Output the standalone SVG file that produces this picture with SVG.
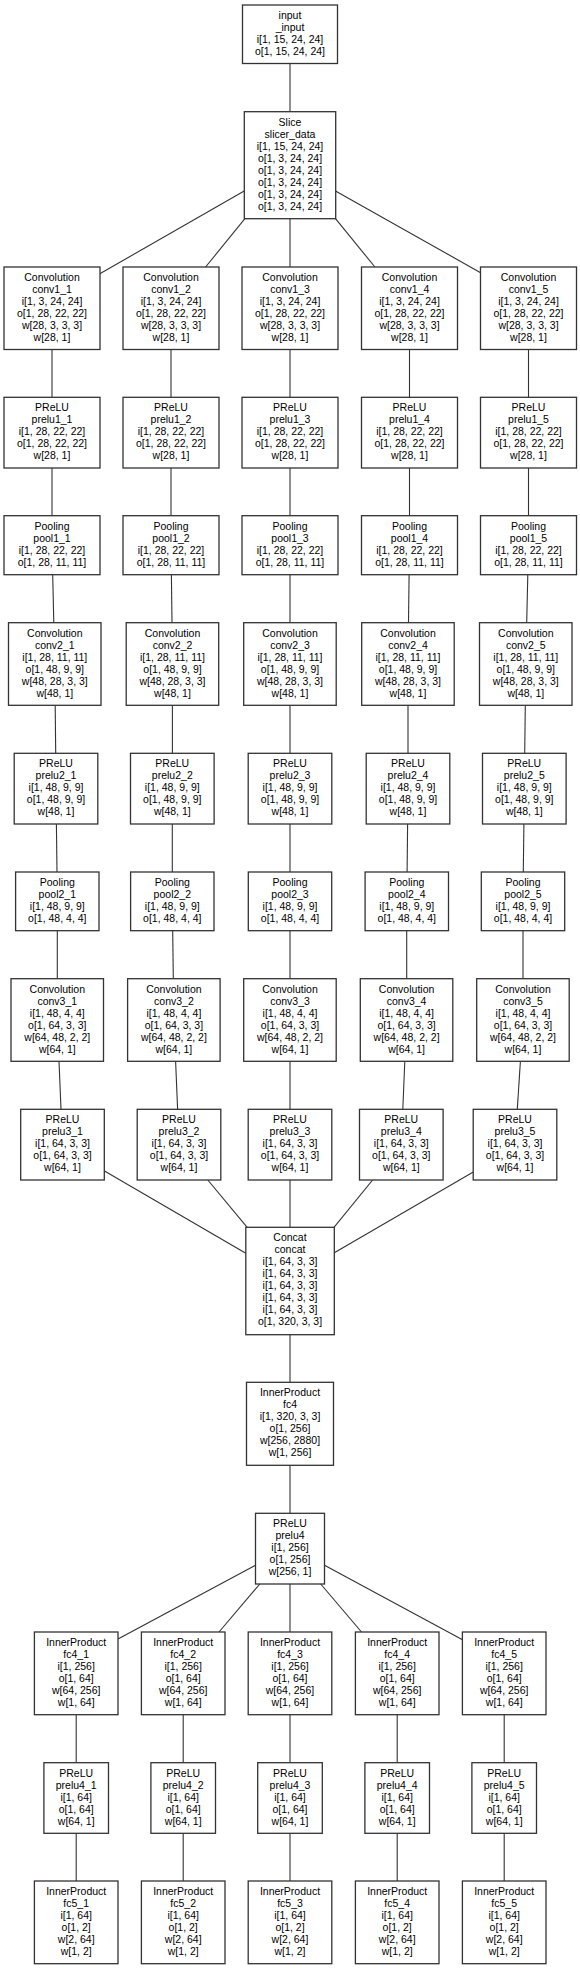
<svg xmlns="http://www.w3.org/2000/svg" width="580" height="1969" viewBox="0 0 580 1969">
<style>
.n rect{fill:#fff;stroke:#333;stroke-width:1.3}
.n text{font-family:"Liberation Sans",Arial,sans-serif;font-size:10.5px;fill:#000;text-anchor:middle}
.e line{stroke:#333;stroke-width:1.1}
</style>
<rect x="0" y="0" width="580" height="1969" fill="#fff"/>
<g class="e" id="connectors">
<line x1="290" y1="63.5" x2="290" y2="111.7"/>
<line x1="244.2" y1="191" x2="99.4" y2="274"/>
<line x1="244.9" y1="218.7" x2="205.6" y2="267"/>
<line x1="290" y1="218.7" x2="290" y2="267"/>
<line x1="335.5" y1="218.7" x2="374.9" y2="267"/>
<line x1="335.5" y1="191" x2="480.6" y2="272.7"/>
<line x1="52" y1="349.5" x2="52" y2="397.3"/>
<line x1="171" y1="349.5" x2="171" y2="397.3"/>
<line x1="290" y1="349.5" x2="290" y2="397.3"/>
<line x1="409.5" y1="349.5" x2="409.5" y2="397.3"/>
<line x1="528.5" y1="349.5" x2="528.5" y2="397.3"/>
<line x1="52" y1="468" x2="52" y2="515.7"/>
<line x1="171" y1="468" x2="171" y2="515.7"/>
<line x1="290" y1="468" x2="290" y2="515.7"/>
<line x1="409.5" y1="468" x2="409.5" y2="515.7"/>
<line x1="528.5" y1="468" x2="528.5" y2="515.7"/>
<line x1="52.7" y1="574.7" x2="53.8" y2="622.7"/>
<line x1="171.4" y1="574.7" x2="172" y2="622.7"/>
<line x1="290" y1="574.7" x2="290" y2="622.7"/>
<line x1="409.1" y1="574.7" x2="408.5" y2="622.7"/>
<line x1="527.8" y1="574.7" x2="526.7" y2="622.7"/>
<line x1="55.2" y1="705.3" x2="55.7" y2="753.3"/>
<line x1="172.4" y1="705.3" x2="172.4" y2="753.3"/>
<line x1="290" y1="705.3" x2="290" y2="753.3"/>
<line x1="408" y1="705.3" x2="408" y2="753.3"/>
<line x1="525.3" y1="705.3" x2="524.7" y2="753.3"/>
<line x1="56.4" y1="824" x2="57" y2="872"/>
<line x1="172.3" y1="824" x2="172.3" y2="872"/>
<line x1="290" y1="824" x2="290" y2="872"/>
<line x1="407.6" y1="824" x2="407.1" y2="872"/>
<line x1="523.9" y1="824" x2="523.3" y2="872"/>
<line x1="57.3" y1="930.7" x2="57.3" y2="978.7"/>
<line x1="172.7" y1="930.7" x2="173.3" y2="978.7"/>
<line x1="290" y1="930.7" x2="290" y2="978.7"/>
<line x1="406.7" y1="930.7" x2="406.7" y2="978.7"/>
<line x1="523" y1="930.7" x2="523" y2="978.7"/>
<line x1="59" y1="1061.3" x2="61" y2="1109.3"/>
<line x1="175.6" y1="1061.3" x2="177.6" y2="1109.3"/>
<line x1="290" y1="1061.3" x2="290" y2="1109.3"/>
<line x1="404.8" y1="1061.3" x2="402.8" y2="1109.3"/>
<line x1="520.4" y1="1061.3" x2="517.3" y2="1109.3"/>
<line x1="104.5" y1="1171" x2="245.8" y2="1253.3"/>
<line x1="207.8" y1="1180" x2="247.2" y2="1227.3"/>
<line x1="290" y1="1180" x2="290" y2="1227.3"/>
<line x1="372.6" y1="1180" x2="334" y2="1227.3"/>
<line x1="475" y1="1171" x2="334.3" y2="1252.7"/>
<line x1="290" y1="1334.7" x2="290" y2="1382.3"/>
<line x1="290" y1="1465.3" x2="290" y2="1513.3"/>
<line x1="255.5" y1="1565.3" x2="118" y2="1639"/>
<line x1="259.8" y1="1584" x2="219" y2="1632"/>
<line x1="290" y1="1584" x2="290" y2="1632"/>
<line x1="320.7" y1="1584" x2="361.5" y2="1632"/>
<line x1="324.5" y1="1565.3" x2="462.5" y2="1639.7"/>
<line x1="76.2" y1="1714.7" x2="76.2" y2="1762.7"/>
<line x1="183.2" y1="1714.7" x2="183.2" y2="1762.7"/>
<line x1="290" y1="1714.7" x2="290" y2="1762.7"/>
<line x1="397.2" y1="1714.7" x2="397.2" y2="1762.7"/>
<line x1="504.2" y1="1714.7" x2="504.2" y2="1762.7"/>
<line x1="76.2" y1="1833.3" x2="76.2" y2="1881"/>
<line x1="183.2" y1="1833.3" x2="183.2" y2="1881"/>
<line x1="290" y1="1833.3" x2="290" y2="1881"/>
<line x1="397.2" y1="1833.3" x2="397.2" y2="1881"/>
<line x1="504.2" y1="1833.3" x2="504.2" y2="1881"/>
</g>

<g class="n" id="input"><rect x="242.5" y="5" width="95" height="58.5"/><text x="290" y="19">input<tspan x="290" dy="12">_input</tspan><tspan x="290" dy="12">i[1, 15, 24, 24]</tspan><tspan x="290" dy="12">o[1, 15, 24, 24]</tspan></text></g>

<g class="n" id="slicer_data"><rect x="244.3" y="111.7" width="91.4" height="107"/><text x="290" y="125.7">Slice<tspan x="290" dy="12">slicer_data</tspan><tspan x="290" dy="12">i[1, 15, 24, 24]</tspan><tspan x="290" dy="12">o[1, 3, 24, 24]</tspan><tspan x="290" dy="12">o[1, 3, 24, 24]</tspan><tspan x="290" dy="12">o[1, 3, 24, 24]</tspan><tspan x="290" dy="12">o[1, 3, 24, 24]</tspan><tspan x="290" dy="12">o[1, 3, 24, 24]</tspan></text></g>

<g class="n" id="conv1_1"><rect x="4" y="267" width="96" height="82.5"/><text x="52" y="281">Convolution<tspan x="52" dy="12">conv1_1</tspan><tspan x="52" dy="12">i[1, 3, 24, 24]</tspan><tspan x="52" dy="12">o[1, 28, 22, 22]</tspan><tspan x="52" dy="12">w[28, 3, 3, 3]</tspan><tspan x="52" dy="12">w[28, 1]</tspan></text></g>
<g class="n" id="conv1_2"><rect x="123" y="267" width="96" height="82.5"/><text x="171" y="281">Convolution<tspan x="171" dy="12">conv1_2</tspan><tspan x="171" dy="12">i[1, 3, 24, 24]</tspan><tspan x="171" dy="12">o[1, 28, 22, 22]</tspan><tspan x="171" dy="12">w[28, 3, 3, 3]</tspan><tspan x="171" dy="12">w[28, 1]</tspan></text></g>
<g class="n" id="conv1_3"><rect x="242" y="267" width="96" height="82.5"/><text x="290" y="281">Convolution<tspan x="290" dy="12">conv1_3</tspan><tspan x="290" dy="12">i[1, 3, 24, 24]</tspan><tspan x="290" dy="12">o[1, 28, 22, 22]</tspan><tspan x="290" dy="12">w[28, 3, 3, 3]</tspan><tspan x="290" dy="12">w[28, 1]</tspan></text></g>
<g class="n" id="conv1_4"><rect x="361.5" y="267" width="96" height="82.5"/><text x="409.5" y="281">Convolution<tspan x="409.5" dy="12">conv1_4</tspan><tspan x="409.5" dy="12">i[1, 3, 24, 24]</tspan><tspan x="409.5" dy="12">o[1, 28, 22, 22]</tspan><tspan x="409.5" dy="12">w[28, 3, 3, 3]</tspan><tspan x="409.5" dy="12">w[28, 1]</tspan></text></g>
<g class="n" id="conv1_5"><rect x="480.5" y="267" width="96" height="82.5"/><text x="528.5" y="281">Convolution<tspan x="528.5" dy="12">conv1_5</tspan><tspan x="528.5" dy="12">i[1, 3, 24, 24]</tspan><tspan x="528.5" dy="12">o[1, 28, 22, 22]</tspan><tspan x="528.5" dy="12">w[28, 3, 3, 3]</tspan><tspan x="528.5" dy="12">w[28, 1]</tspan></text></g>

<g class="n" id="prelu1_1"><rect x="4" y="397.3" width="96" height="70.7"/><text x="52" y="411.3">PReLU<tspan x="52" dy="12">prelu1_1</tspan><tspan x="52" dy="12">i[1, 28, 22, 22]</tspan><tspan x="52" dy="12">o[1, 28, 22, 22]</tspan><tspan x="52" dy="12">w[28, 1]</tspan></text></g>
<g class="n" id="prelu1_2"><rect x="123" y="397.3" width="96" height="70.7"/><text x="171" y="411.3">PReLU<tspan x="171" dy="12">prelu1_2</tspan><tspan x="171" dy="12">i[1, 28, 22, 22]</tspan><tspan x="171" dy="12">o[1, 28, 22, 22]</tspan><tspan x="171" dy="12">w[28, 1]</tspan></text></g>
<g class="n" id="prelu1_3"><rect x="242" y="397.3" width="96" height="70.7"/><text x="290" y="411.3">PReLU<tspan x="290" dy="12">prelu1_3</tspan><tspan x="290" dy="12">i[1, 28, 22, 22]</tspan><tspan x="290" dy="12">o[1, 28, 22, 22]</tspan><tspan x="290" dy="12">w[28, 1]</tspan></text></g>
<g class="n" id="prelu1_4"><rect x="361.5" y="397.3" width="96" height="70.7"/><text x="409.5" y="411.3">PReLU<tspan x="409.5" dy="12">prelu1_4</tspan><tspan x="409.5" dy="12">i[1, 28, 22, 22]</tspan><tspan x="409.5" dy="12">o[1, 28, 22, 22]</tspan><tspan x="409.5" dy="12">w[28, 1]</tspan></text></g>
<g class="n" id="prelu1_5"><rect x="480.5" y="397.3" width="96" height="70.7"/><text x="528.5" y="411.3">PReLU<tspan x="528.5" dy="12">prelu1_5</tspan><tspan x="528.5" dy="12">i[1, 28, 22, 22]</tspan><tspan x="528.5" dy="12">o[1, 28, 22, 22]</tspan><tspan x="528.5" dy="12">w[28, 1]</tspan></text></g>

<g class="n" id="pool1_1"><rect x="4" y="515.7" width="96" height="59"/><text x="52" y="529.7">Pooling<tspan x="52" dy="12">pool1_1</tspan><tspan x="52" dy="12">i[1, 28, 22, 22]</tspan><tspan x="52" dy="12">o[1, 28, 11, 11]</tspan></text></g>
<g class="n" id="pool1_2"><rect x="123" y="515.7" width="96" height="59"/><text x="171" y="529.7">Pooling<tspan x="171" dy="12">pool1_2</tspan><tspan x="171" dy="12">i[1, 28, 22, 22]</tspan><tspan x="171" dy="12">o[1, 28, 11, 11]</tspan></text></g>
<g class="n" id="pool1_3"><rect x="242" y="515.7" width="96" height="59"/><text x="290" y="529.7">Pooling<tspan x="290" dy="12">pool1_3</tspan><tspan x="290" dy="12">i[1, 28, 22, 22]</tspan><tspan x="290" dy="12">o[1, 28, 11, 11]</tspan></text></g>
<g class="n" id="pool1_4"><rect x="361.5" y="515.7" width="96" height="59"/><text x="409.5" y="529.7">Pooling<tspan x="409.5" dy="12">pool1_4</tspan><tspan x="409.5" dy="12">i[1, 28, 22, 22]</tspan><tspan x="409.5" dy="12">o[1, 28, 11, 11]</tspan></text></g>
<g class="n" id="pool1_5"><rect x="480.5" y="515.7" width="96" height="59"/><text x="528.5" y="529.7">Pooling<tspan x="528.5" dy="12">pool1_5</tspan><tspan x="528.5" dy="12">i[1, 28, 22, 22]</tspan><tspan x="528.5" dy="12">o[1, 28, 11, 11]</tspan></text></g>

<g class="n" id="conv2_1"><rect x="8.5" y="622.7" width="92.5" height="82.6"/><text x="54.8" y="636.7">Convolution<tspan x="54.8" dy="12">conv2_1</tspan><tspan x="54.8" dy="12">i[1, 28, 11, 11]</tspan><tspan x="54.8" dy="12">o[1, 48, 9, 9]</tspan><tspan x="54.8" dy="12">w[48, 28, 3, 3]</tspan><tspan x="54.8" dy="12">w[48, 1]</tspan></text></g>
<g class="n" id="conv2_2"><rect x="126.2" y="622.7" width="92.5" height="82.6"/><text x="172.5" y="636.7">Convolution<tspan x="172.5" dy="12">conv2_2</tspan><tspan x="172.5" dy="12">i[1, 28, 11, 11]</tspan><tspan x="172.5" dy="12">o[1, 48, 9, 9]</tspan><tspan x="172.5" dy="12">w[48, 28, 3, 3]</tspan><tspan x="172.5" dy="12">w[48, 1]</tspan></text></g>
<g class="n" id="conv2_3"><rect x="243.7" y="622.7" width="92.5" height="82.6"/><text x="290" y="636.7">Convolution<tspan x="290" dy="12">conv2_3</tspan><tspan x="290" dy="12">i[1, 28, 11, 11]</tspan><tspan x="290" dy="12">o[1, 48, 9, 9]</tspan><tspan x="290" dy="12">w[48, 28, 3, 3]</tspan><tspan x="290" dy="12">w[48, 1]</tspan></text></g>
<g class="n" id="conv2_4"><rect x="361.7" y="622.7" width="92.5" height="82.6"/><text x="408" y="636.7">Convolution<tspan x="408" dy="12">conv2_4</tspan><tspan x="408" dy="12">i[1, 28, 11, 11]</tspan><tspan x="408" dy="12">o[1, 48, 9, 9]</tspan><tspan x="408" dy="12">w[48, 28, 3, 3]</tspan><tspan x="408" dy="12">w[48, 1]</tspan></text></g>
<g class="n" id="conv2_5"><rect x="479.5" y="622.7" width="92.5" height="82.6"/><text x="525.8" y="636.7">Convolution<tspan x="525.8" dy="12">conv2_5</tspan><tspan x="525.8" dy="12">i[1, 28, 11, 11]</tspan><tspan x="525.8" dy="12">o[1, 48, 9, 9]</tspan><tspan x="525.8" dy="12">w[48, 28, 3, 3]</tspan><tspan x="525.8" dy="12">w[48, 1]</tspan></text></g>

<g class="n" id="prelu2_1"><rect x="14.2" y="753.3" width="83.6" height="70.7"/><text x="56" y="767.3">PReLU<tspan x="56" dy="12">prelu2_1</tspan><tspan x="56" dy="12">i[1, 48, 9, 9]</tspan><tspan x="56" dy="12">o[1, 48, 9, 9]</tspan><tspan x="56" dy="12">w[48, 1]</tspan></text></g>
<g class="n" id="prelu2_2"><rect x="130.5" y="753.3" width="83.6" height="70.7"/><text x="172.3" y="767.3">PReLU<tspan x="172.3" dy="12">prelu2_2</tspan><tspan x="172.3" dy="12">i[1, 48, 9, 9]</tspan><tspan x="172.3" dy="12">o[1, 48, 9, 9]</tspan><tspan x="172.3" dy="12">w[48, 1]</tspan></text></g>
<g class="n" id="prelu2_3"><rect x="248.2" y="753.3" width="83.6" height="70.7"/><text x="290" y="767.3">PReLU<tspan x="290" dy="12">prelu2_3</tspan><tspan x="290" dy="12">i[1, 48, 9, 9]</tspan><tspan x="290" dy="12">o[1, 48, 9, 9]</tspan><tspan x="290" dy="12">w[48, 1]</tspan></text></g>
<g class="n" id="prelu2_4"><rect x="366.2" y="753.3" width="83.6" height="70.7"/><text x="408" y="767.3">PReLU<tspan x="408" dy="12">prelu2_4</tspan><tspan x="408" dy="12">i[1, 48, 9, 9]</tspan><tspan x="408" dy="12">o[1, 48, 9, 9]</tspan><tspan x="408" dy="12">w[48, 1]</tspan></text></g>
<g class="n" id="prelu2_5"><rect x="482.5" y="753.3" width="83.6" height="70.7"/><text x="524.3" y="767.3">PReLU<tspan x="524.3" dy="12">prelu2_5</tspan><tspan x="524.3" dy="12">i[1, 48, 9, 9]</tspan><tspan x="524.3" dy="12">o[1, 48, 9, 9]</tspan><tspan x="524.3" dy="12">w[48, 1]</tspan></text></g>

<g class="n" id="pool2_1"><rect x="15.6" y="872" width="83.4" height="58.7"/><text x="57.3" y="886">Pooling<tspan x="57.3" dy="12">pool2_1</tspan><tspan x="57.3" dy="12">i[1, 48, 9, 9]</tspan><tspan x="57.3" dy="12">o[1, 48, 4, 4]</tspan></text></g>
<g class="n" id="pool2_2"><rect x="130.6" y="872" width="83.4" height="58.7"/><text x="172.3" y="886">Pooling<tspan x="172.3" dy="12">pool2_2</tspan><tspan x="172.3" dy="12">i[1, 48, 9, 9]</tspan><tspan x="172.3" dy="12">o[1, 48, 4, 4]</tspan></text></g>
<g class="n" id="pool2_3"><rect x="248.3" y="872" width="83.4" height="58.7"/><text x="290" y="886">Pooling<tspan x="290" dy="12">pool2_3</tspan><tspan x="290" dy="12">i[1, 48, 9, 9]</tspan><tspan x="290" dy="12">o[1, 48, 4, 4]</tspan></text></g>
<g class="n" id="pool2_4"><rect x="365.1" y="872" width="83.4" height="58.7"/><text x="406.8" y="886">Pooling<tspan x="406.8" dy="12">pool2_4</tspan><tspan x="406.8" dy="12">i[1, 48, 9, 9]</tspan><tspan x="406.8" dy="12">o[1, 48, 4, 4]</tspan></text></g>
<g class="n" id="pool2_5"><rect x="481.3" y="872" width="83.4" height="58.7"/><text x="523" y="886">Pooling<tspan x="523" dy="12">pool2_5</tspan><tspan x="523" dy="12">i[1, 48, 9, 9]</tspan><tspan x="523" dy="12">o[1, 48, 4, 4]</tspan></text></g>

<g class="n" id="conv3_1"><rect x="11" y="978.7" width="92.5" height="82.6"/><text x="57.3" y="992.7">Convolution<tspan x="57.3" dy="12">conv3_1</tspan><tspan x="57.3" dy="12">i[1, 48, 4, 4]</tspan><tspan x="57.3" dy="12">o[1, 64, 3, 3]</tspan><tspan x="57.3" dy="12">w[64, 48, 2, 2]</tspan><tspan x="57.3" dy="12">w[64, 1]</tspan></text></g>
<g class="n" id="conv3_2"><rect x="127.6" y="978.7" width="92.5" height="82.6"/><text x="173.9" y="992.7">Convolution<tspan x="173.9" dy="12">conv3_2</tspan><tspan x="173.9" dy="12">i[1, 48, 4, 4]</tspan><tspan x="173.9" dy="12">o[1, 64, 3, 3]</tspan><tspan x="173.9" dy="12">w[64, 48, 2, 2]</tspan><tspan x="173.9" dy="12">w[64, 1]</tspan></text></g>
<g class="n" id="conv3_3"><rect x="243.7" y="978.7" width="92.5" height="82.6"/><text x="290" y="992.7">Convolution<tspan x="290" dy="12">conv3_3</tspan><tspan x="290" dy="12">i[1, 48, 4, 4]</tspan><tspan x="290" dy="12">o[1, 64, 3, 3]</tspan><tspan x="290" dy="12">w[64, 48, 2, 2]</tspan><tspan x="290" dy="12">w[64, 1]</tspan></text></g>
<g class="n" id="conv3_4"><rect x="360.3" y="978.7" width="92.5" height="82.6"/><text x="406.6" y="992.7">Convolution<tspan x="406.6" dy="12">conv3_4</tspan><tspan x="406.6" dy="12">i[1, 48, 4, 4]</tspan><tspan x="406.6" dy="12">o[1, 64, 3, 3]</tspan><tspan x="406.6" dy="12">w[64, 48, 2, 2]</tspan><tspan x="406.6" dy="12">w[64, 1]</tspan></text></g>
<g class="n" id="conv3_5"><rect x="476.7" y="978.7" width="92.5" height="82.6"/><text x="523" y="992.7">Convolution<tspan x="523" dy="12">conv3_5</tspan><tspan x="523" dy="12">i[1, 48, 4, 4]</tspan><tspan x="523" dy="12">o[1, 64, 3, 3]</tspan><tspan x="523" dy="12">w[64, 48, 2, 2]</tspan><tspan x="523" dy="12">w[64, 1]</tspan></text></g>

<g class="n" id="prelu3_1"><rect x="20.7" y="1109.3" width="83.6" height="70.7"/><text x="62.5" y="1123.3">PReLU<tspan x="62.5" dy="12">prelu3_1</tspan><tspan x="62.5" dy="12">i[1, 64, 3, 3]</tspan><tspan x="62.5" dy="12">o[1, 64, 3, 3]</tspan><tspan x="62.5" dy="12">w[64, 1]</tspan></text></g>
<g class="n" id="prelu3_2"><rect x="137.2" y="1109.3" width="83.6" height="70.7"/><text x="179" y="1123.3">PReLU<tspan x="179" dy="12">prelu3_2</tspan><tspan x="179" dy="12">i[1, 64, 3, 3]</tspan><tspan x="179" dy="12">o[1, 64, 3, 3]</tspan><tspan x="179" dy="12">w[64, 1]</tspan></text></g>
<g class="n" id="prelu3_3"><rect x="248.2" y="1109.3" width="83.6" height="70.7"/><text x="290" y="1123.3">PReLU<tspan x="290" dy="12">prelu3_3</tspan><tspan x="290" dy="12">i[1, 64, 3, 3]</tspan><tspan x="290" dy="12">o[1, 64, 3, 3]</tspan><tspan x="290" dy="12">w[64, 1]</tspan></text></g>
<g class="n" id="prelu3_4"><rect x="359.5" y="1109.3" width="83.6" height="70.7"/><text x="401.3" y="1123.3">PReLU<tspan x="401.3" dy="12">prelu3_4</tspan><tspan x="401.3" dy="12">i[1, 64, 3, 3]</tspan><tspan x="401.3" dy="12">o[1, 64, 3, 3]</tspan><tspan x="401.3" dy="12">w[64, 1]</tspan></text></g>
<g class="n" id="prelu3_5"><rect x="473.2" y="1109.3" width="83.6" height="70.7"/><text x="515" y="1123.3">PReLU<tspan x="515" dy="12">prelu3_5</tspan><tspan x="515" dy="12">i[1, 64, 3, 3]</tspan><tspan x="515" dy="12">o[1, 64, 3, 3]</tspan><tspan x="515" dy="12">w[64, 1]</tspan></text></g>

<g class="n" id="concat"><rect x="245.8" y="1227.3" width="88.5" height="107.4"/><text x="290" y="1241.3">Concat<tspan x="290" dy="12">concat</tspan><tspan x="290" dy="12">i[1, 64, 3, 3]</tspan><tspan x="290" dy="12">i[1, 64, 3, 3]</tspan><tspan x="290" dy="12">i[1, 64, 3, 3]</tspan><tspan x="290" dy="12">i[1, 64, 3, 3]</tspan><tspan x="290" dy="12">i[1, 64, 3, 3]</tspan><tspan x="290" dy="12">o[1, 320, 3, 3]</tspan></text></g>

<g class="n" id="fc4"><rect x="246.5" y="1382.3" width="87" height="83"/><text x="290" y="1396.3">InnerProduct<tspan x="290" dy="12">fc4</tspan><tspan x="290" dy="12">i[1, 320, 3, 3]</tspan><tspan x="290" dy="12">o[1, 256]</tspan><tspan x="290" dy="12">w[256, 2880]</tspan><tspan x="290" dy="12">w[1, 256]</tspan></text></g>

<g class="n" id="prelu4"><rect x="255.5" y="1513.3" width="69" height="70.7"/><text x="290" y="1527.3">PReLU<tspan x="290" dy="12">prelu4</tspan><tspan x="290" dy="12">i[1, 256]</tspan><tspan x="290" dy="12">o[1, 256]</tspan><tspan x="290" dy="12">w[256, 1]</tspan></text></g>

<g class="n" id="fc4_1"><rect x="34.4" y="1632" width="83.6" height="82.7"/><text x="76.2" y="1646">InnerProduct<tspan x="76.2" dy="12">fc4_1</tspan><tspan x="76.2" dy="12">i[1, 256]</tspan><tspan x="76.2" dy="12">o[1, 64]</tspan><tspan x="76.2" dy="12">w[64, 256]</tspan><tspan x="76.2" dy="12">w[1, 64]</tspan></text></g>
<g class="n" id="fc4_2"><rect x="141.4" y="1632" width="83.6" height="82.7"/><text x="183.2" y="1646">InnerProduct<tspan x="183.2" dy="12">fc4_2</tspan><tspan x="183.2" dy="12">i[1, 256]</tspan><tspan x="183.2" dy="12">o[1, 64]</tspan><tspan x="183.2" dy="12">w[64, 256]</tspan><tspan x="183.2" dy="12">w[1, 64]</tspan></text></g>
<g class="n" id="fc4_3"><rect x="248.2" y="1632" width="83.6" height="82.7"/><text x="290" y="1646">InnerProduct<tspan x="290" dy="12">fc4_3</tspan><tspan x="290" dy="12">i[1, 256]</tspan><tspan x="290" dy="12">o[1, 64]</tspan><tspan x="290" dy="12">w[64, 256]</tspan><tspan x="290" dy="12">w[1, 64]</tspan></text></g>
<g class="n" id="fc4_4"><rect x="355.4" y="1632" width="83.6" height="82.7"/><text x="397.2" y="1646">InnerProduct<tspan x="397.2" dy="12">fc4_4</tspan><tspan x="397.2" dy="12">i[1, 256]</tspan><tspan x="397.2" dy="12">o[1, 64]</tspan><tspan x="397.2" dy="12">w[64, 256]</tspan><tspan x="397.2" dy="12">w[1, 64]</tspan></text></g>
<g class="n" id="fc4_5"><rect x="462.4" y="1632" width="83.6" height="82.7"/><text x="504.2" y="1646">InnerProduct<tspan x="504.2" dy="12">fc4_5</tspan><tspan x="504.2" dy="12">i[1, 256]</tspan><tspan x="504.2" dy="12">o[1, 64]</tspan><tspan x="504.2" dy="12">w[64, 256]</tspan><tspan x="504.2" dy="12">w[1, 64]</tspan></text></g>

<g class="n" id="prelu4_1"><rect x="43.9" y="1762.7" width="64.6" height="70.6"/><text x="76.2" y="1776.7">PReLU<tspan x="76.2" dy="12">prelu4_1</tspan><tspan x="76.2" dy="12">i[1, 64]</tspan><tspan x="76.2" dy="12">o[1, 64]</tspan><tspan x="76.2" dy="12">w[64, 1]</tspan></text></g>
<g class="n" id="prelu4_2"><rect x="150.9" y="1762.7" width="64.6" height="70.6"/><text x="183.2" y="1776.7">PReLU<tspan x="183.2" dy="12">prelu4_2</tspan><tspan x="183.2" dy="12">i[1, 64]</tspan><tspan x="183.2" dy="12">o[1, 64]</tspan><tspan x="183.2" dy="12">w[64, 1]</tspan></text></g>
<g class="n" id="prelu4_3"><rect x="257.7" y="1762.7" width="64.6" height="70.6"/><text x="290" y="1776.7">PReLU<tspan x="290" dy="12">prelu4_3</tspan><tspan x="290" dy="12">i[1, 64]</tspan><tspan x="290" dy="12">o[1, 64]</tspan><tspan x="290" dy="12">w[64, 1]</tspan></text></g>
<g class="n" id="prelu4_4"><rect x="364.9" y="1762.7" width="64.6" height="70.6"/><text x="397.2" y="1776.7">PReLU<tspan x="397.2" dy="12">prelu4_4</tspan><tspan x="397.2" dy="12">i[1, 64]</tspan><tspan x="397.2" dy="12">o[1, 64]</tspan><tspan x="397.2" dy="12">w[64, 1]</tspan></text></g>
<g class="n" id="prelu4_5"><rect x="471.9" y="1762.7" width="64.6" height="70.6"/><text x="504.2" y="1776.7">PReLU<tspan x="504.2" dy="12">prelu4_5</tspan><tspan x="504.2" dy="12">i[1, 64]</tspan><tspan x="504.2" dy="12">o[1, 64]</tspan><tspan x="504.2" dy="12">w[64, 1]</tspan></text></g>

<g class="n" id="fc5_1"><rect x="34.4" y="1881" width="83.6" height="82.7"/><text x="76.2" y="1895">InnerProduct<tspan x="76.2" dy="12">fc5_1</tspan><tspan x="76.2" dy="12">i[1, 64]</tspan><tspan x="76.2" dy="12">o[1, 2]</tspan><tspan x="76.2" dy="12">w[2, 64]</tspan><tspan x="76.2" dy="12">w[1, 2]</tspan></text></g>
<g class="n" id="fc5_2"><rect x="141.4" y="1881" width="83.6" height="82.7"/><text x="183.2" y="1895">InnerProduct<tspan x="183.2" dy="12">fc5_2</tspan><tspan x="183.2" dy="12">i[1, 64]</tspan><tspan x="183.2" dy="12">o[1, 2]</tspan><tspan x="183.2" dy="12">w[2, 64]</tspan><tspan x="183.2" dy="12">w[1, 2]</tspan></text></g>
<g class="n" id="fc5_3"><rect x="248.2" y="1881" width="83.6" height="82.7"/><text x="290" y="1895">InnerProduct<tspan x="290" dy="12">fc5_3</tspan><tspan x="290" dy="12">i[1, 64]</tspan><tspan x="290" dy="12">o[1, 2]</tspan><tspan x="290" dy="12">w[2, 64]</tspan><tspan x="290" dy="12">w[1, 2]</tspan></text></g>
<g class="n" id="fc5_4"><rect x="355.4" y="1881" width="83.6" height="82.7"/><text x="397.2" y="1895">InnerProduct<tspan x="397.2" dy="12">fc5_4</tspan><tspan x="397.2" dy="12">i[1, 64]</tspan><tspan x="397.2" dy="12">o[1, 2]</tspan><tspan x="397.2" dy="12">w[2, 64]</tspan><tspan x="397.2" dy="12">w[1, 2]</tspan></text></g>
<g class="n" id="fc5_5"><rect x="462.4" y="1881" width="83.6" height="82.7"/><text x="504.2" y="1895">InnerProduct<tspan x="504.2" dy="12">fc5_5</tspan><tspan x="504.2" dy="12">i[1, 64]</tspan><tspan x="504.2" dy="12">o[1, 2]</tspan><tspan x="504.2" dy="12">w[2, 64]</tspan><tspan x="504.2" dy="12">w[1, 2]</tspan></text></g>
</svg>
